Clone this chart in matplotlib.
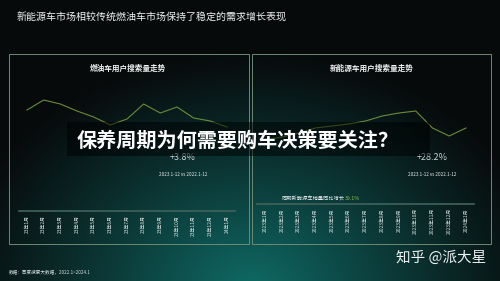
import matplotlib
matplotlib.use('Agg')
import matplotlib.pyplot as plt
import numpy as np
from matplotlib.patches import Rectangle

plt.rcParams['font.family'] = ['Noto Sans CJK SC', 'DejaVu Sans']

W, H = 500, 281

# data (search index, arbitrary units)
months_short = ['23年1月', '23年2月', '23年3月', '23年4月', '23年5月', '23年6月', '23年7月',
                '23年8月', '23年9月', '23年10月', '23年11月', '23年12月', '24年1月']
months_long = ['2023年1月', '2023年2月', '2023年3月', '2023年4月', '2023年5月', '2023年6月',
               '2023年7月', '2023年8月', '2023年9月', '2023年10月', '2023年11月', '2023年12月',
               '2024年1月']
fuel_search = [101, 111, 107, 100, 94, 86, 92, 107, 98, 104, 93, 90, 84]
nev_search = [64, 67, 71, 76, 78, 80, 83, 88, 91, 93, 76, 68, 76]

fuel_growth = '+3.8%'
nev_growth = '+28.2%'
period = '2023.1-12 vs 2022.1-12'
nev_sales_growth = '39.1%'

fig = plt.figure(figsize=(W / 100, H / 100), dpi=100)


def px_axes(x0, y0, x1, y1, **kw):
    return fig.add_axes([x0 / W, 1 - y1 / H, (x1 - x0) / W, (y1 - y0) / H], **kw)


# background
bg = px_axes(0, 0, W, H)
bg.set_xlim(0, W)
bg.set_ylim(H, 0)
bg.axis('off')
yy, xx = np.mgrid[0:H, 0:W]
d = np.sqrt(((xx - 250) / 300.0) ** 2 + ((yy - 290) / 240.0) ** 2)
f = np.clip(1 - d, 0, 1) ** 1.1
dark = np.array([0.03, 0.04, 0.045])
teal = np.array([0.06, 0.42, 0.40])
img = dark + (teal - dark) * f[..., None]
bg.imshow(img, extent=(0, W, H, 0), aspect='auto', zorder=0)

bg.text(17, 18, '新能源车市场相较传统燃油车市场保持了稳定的需求增长表现', color='#f0f2f2',
        fontsize=7.2, va='center', ha='left')

for x0, x1 in [(9, 249), (252, 491)]:
    bg.add_patch(Rectangle((x0, 54), x1 - x0, 190, fill=False, ec='#6f8a72', lw=0.7, zorder=2))

bg.text(128, 68, '燃油车用户搜索量走势', color='#f0f2f2', fontsize=5.5, weight='bold',
        ha='center', va='center')
bg.text(372, 68, '新能源车用户搜索量走势', color='#f0f2f2', fontsize=5.5, weight='bold',
        ha='center', va='center')

bg.text(183, 157, fuel_growth, color='#c8d2d2', fontsize=6.5, ha='center', va='center')
bg.text(432, 157, nev_growth, color='#c8d2d2', fontsize=6.5, ha='center', va='center')
bg.text(183, 174, period, color='#e6ecec', fontsize=3.3, ha='center', va='center')
bg.text(432, 174, period, color='#e6ecec', fontsize=3.3, ha='center', va='center')

t = bg.text(282, 199, '同期新能源车销量同比增长', color='#e0e6e6', fontsize=3.8,
            ha='left', va='center')
fig.canvas.draw()
bb = t.get_window_extent().transformed(bg.transData.inverted())
bg.text(bb.x1, 199, nev_sales_growth, color='#8fbf4a', fontsize=3.8, ha='left', va='center')

bg.text(9, 272, '数据：百度搜索大数据，2022.1~2024.1', color='#d8e0e0', fontsize=3.3,
        ha='left', va='center')


def line_panel(box, values, labels, ylim):
    ax = px_axes(*box)
    ax.patch.set_alpha(0)
    x = np.arange(len(values))
    ax.plot(x, values, color='#6a8a3a', lw=0.8)
    ax.set_xlim(-0.48, len(values) - 0.52)
    ax.set_ylim(*ylim)
    for s in ['top', 'left', 'right']:
        ax.spines[s].set_visible(False)
    ax.spines['bottom'].set_color('#41635b')
    ax.spines['bottom'].set_linewidth(1.2)
    ax.set_yticks([])
    ax.set_xticks(x)
    ax.set_xticklabels(labels, rotation=90, fontsize=3.5, color='#d6dede', va='top')
    ax.tick_params(axis='x', length=0, pad=3)
    return ax


line_panel((19, 90, 235, 211), fuel_search, months_short, (0, 121))
line_panel((257, 90, 474, 204), nev_search, months_long, (0, 114))

# overlay title band and watermark
fg = px_axes(0, 0, W, H)
fg.set_xlim(0, W)
fg.set_ylim(H, 0)
fg.axis('off')
fg.patch.set_alpha(0)
fg.add_patch(Rectangle((67, 122), 363, 34, fc='black', alpha=0.5, lw=0))
fg.text(77, 140, '保养周期为何需要购车决策要关注？', color='white', fontsize=14.5,
        weight='bold', ha='left', va='center')
fg.text(486, 258, '知乎 @派大星', color='#eef2f2', fontsize=10.5, ha='right', va='center')

fig.savefig('out.png', dpi=100)
